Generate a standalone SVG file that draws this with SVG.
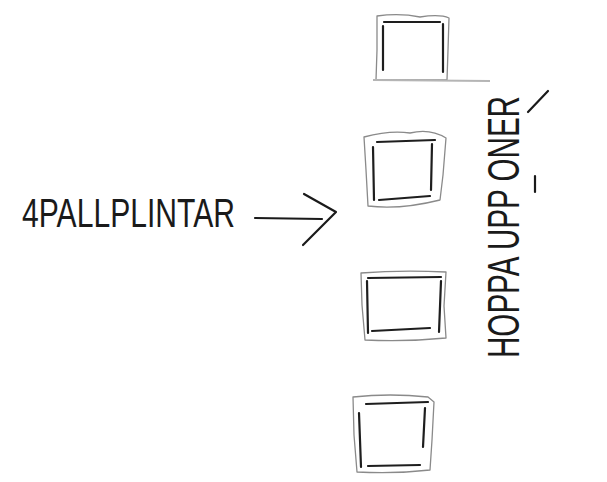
<svg xmlns="http://www.w3.org/2000/svg" width="607" height="482" viewBox="0 0 607 482">
<style>
.outer{fill:none;stroke:#8a8a8a;stroke-width:1.3;stroke-linejoin:round}
.inner{fill:none;stroke:#1e1e1e;stroke-width:2.2;stroke-linecap:round}
.ink{fill:none;stroke:#1a1a1a;stroke-width:2.2;stroke-linecap:round;stroke-linejoin:round}
.hand{font-family:"Liberation Sans",Arial,sans-serif;fill:#1a1a1a}
</style>
<rect width="607" height="482" fill="#ffffff"/>
<g id="label">
<text class="hand" x="22" y="227" font-size="40" textLength="213" lengthAdjust="spacingAndGlyphs">4PALLPLINTAR</text>
</g>
<g id="connectors">
<path class="ink" d="M255 218 L322 219"/>
<path class="ink" d="M304 194 L336 212 L303 245"/>
</g>
<g id="box1">
<path class="outer" d="M377 16 Q400 13 420 17 Q440 14 449 18 L448 50 L447 80 L376 80 L377 50 Z"/>
<path class="inner" d="M384 22 L440 22 M383 26 L383 70 M443 24 L443 72" stroke-width="1.6"/>
<path d="M373 80 L490 81" stroke="#b5b5b5" stroke-width="2" fill="none"/>
</g>
<g id="box2">
<path class="outer" d="M364 137 Q390 130 410 133 Q430 128 446 138 L443 175 L440 200 Q400 210 368 206 L366 170 Z"/>
<path class="inner" d="M377 142 L435 140 M373 147 L374 200 M432 144 L431 190 M379 200 L430 196"/>
</g>
<g id="box3">
<path class="outer" d="M361 273 Q400 270 446 272 L444 306 L446 338 Q405 342 365 340 L362 305 Z"/>
<path class="inner" d="M368 278 L441 277 M367 281 L368 333 M441 281 L439 332 M372 331 L430 328"/>
</g>
<g id="box4">
<path class="outer" d="M353 397 Q390 393 428 397 L434 402 L432 440 L430 470 Q395 474 357 472 L354 435 Z"/>
<path class="inner" d="M366 404 L428 402 M359 413 L361 467 M425 408 L423 447 M368 466 L420 465"/>
</g>
<g id="note">
<text class="hand" transform="translate(519,358) rotate(-90)" font-size="44" textLength="262" lengthAdjust="spacingAndGlyphs">HOPPA UPP ONER</text>
<path class="ink" d="M535 176 L535 192"/>
<path class="ink" d="M528 112 L548 91" stroke-width="1.8"/>
</g>
</svg>
